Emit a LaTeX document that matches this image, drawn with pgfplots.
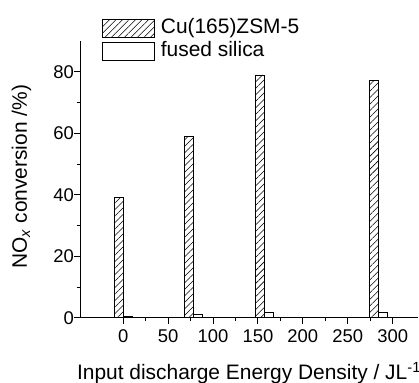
\documentclass[border=0pt]{standalone}
\usepackage{fontspec}
\setmainfont{Liberation Sans}
\usepackage{pgfplots}
\pgfplotsset{compat=1.18}
\usetikzlibrary{patterns,patterns.meta}
\begin{document}
\begin{tikzpicture}
\begin{axis}[
 name=ax,
 scale only axis,
 width=338bp, height=276.7bp,
 xmin=-48, xmax=328.2,
 ymin=0, ymax=90,
 axis x line*=bottom, axis y line*=left,
 axis line style={line width=0.8bp, black},
 xtick={0,50,...,300}, ytick={0,20,...,80},
 minor x tick num=1, minor y tick num=1,
 tick align=outside,
 major tick length=6bp, minor tick length=3.5bp,
 every tick/.style={black, line width=0.8bp},
 /pgf/number format/assume math mode=true,
 tick label style={font=\fontsize{18.5}{21}\selectfont},
 xticklabel style={anchor=north, inner sep=0pt, yshift=-6bp},
 yticklabel style={anchor=east, inner sep=0pt},
 label style={font=\fontsize{21}{24}\selectfont},
 xlabel={Input discharge Energy Density / JL\textsuperscript{-1}},
 ylabel={NO\textsubscript{\textit{x}} conversion /\%)},
 xlabel style={at={(axis description cs:0.5,0)}, anchor=base, yshift=-62bp},
 ylabel style={at={(axis description cs:-0.157,0.509)}, anchor=base},
 legend style={at={(axis description cs:0.066,1.0795)}, anchor=north west, draw=none, fill=none, inner sep=0pt, outer sep=0pt, row sep=4.8bp, column sep=6bp, font=\fontsize{21}{24}\selectfont, nodes={inner sep=0pt, text height=0.73em, text depth=0.21em}},
 legend cell align=left,
 legend image code/.code={\draw[#1, line width=0.6bp] (0bp,-6.5bp) rectangle (52bp,11.5bp);},
]
\addplot[ybar, bar width=10, bar shift=-5, draw=black, line width=0.6bp, pattern={Lines[angle=45, distance=4.6bp, line width=0.55bp]}, pattern color=black] coordinates {(0,39.1) (78,59.1) (157,79) (284,77.2)};
\addlegendentry{Cu(165)ZSM-5}
\addplot[ybar, bar width=10, bar shift=5, draw=black, line width=0.6bp, fill=white] coordinates {(0,0.55) (78,1.1) (157,1.75) (284,1.75)};
\addlegendentry{fused silica}
\end{axis}
\pgfresetboundingbox
\path ([xshift=-80bp,yshift=-65.3bp]ax.south west) rectangle ([xshift=339bp,yshift=317.7bp]ax.south west);
\end{tikzpicture}
\end{document}
